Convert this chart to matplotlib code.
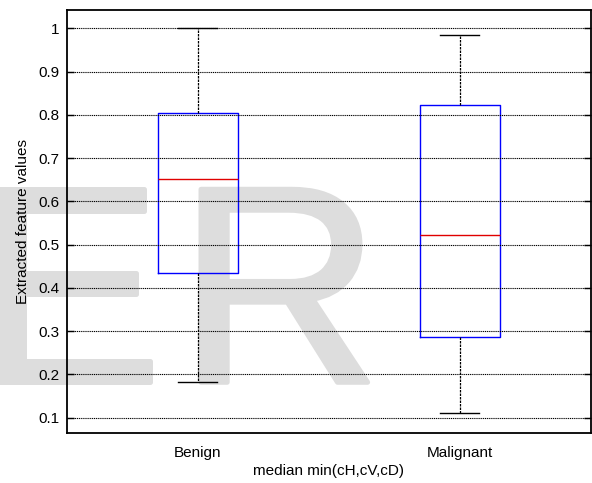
import matplotlib
matplotlib.use("Agg")
import matplotlib.pyplot as plt
import matplotlib.patheffects as pe

# box statistics for each class
groups = ["Benign", "Malignant"]
q1 = [0.435, 0.287]
med = [0.651, 0.522]
q3 = [0.804, 0.823]
whis_lo = [0.182, 0.110]
whis_hi = [1.000, 0.985]
yticks = [0.1, 0.2, 0.3, 0.4, 0.5, 0.6, 0.7, 0.8, 0.9, 1.0]
ytick_labels = ["0.1", "0.2", "0.3", "0.4", "0.5", "0.6", "0.7", "0.8", "0.9", "1"]

plt.rcParams['font.family'] = ['Liberation Sans', 'DejaVu Sans']

fig = plt.figure(figsize=(5.92, 4.83), dpi=100)
ax = fig.add_axes([0.1127, 0.1035, 0.8851, 0.8758])
ax.patch.set_visible(False)

# big grey lettering sitting behind the axes
for ch, xpos in [("E", -0.0423), ("R", 0.3007)]:
    t = fig.text(xpos, 0.2085, ch, fontsize=202, color='#dddddd',
                 ha='left', va='baseline', zorder=-1)
    t.set_path_effects([pe.withStroke(linewidth=3.6, foreground='#dddddd')])

stats = []
for i in range(len(groups)):
    stats.append({'label': groups[i], 'q1': q1[i], 'med': med[i], 'q3': q3[i],
                  'whislo': whis_lo[i], 'whishi': whis_hi[i], 'fliers': []})

ax.bxp(stats, positions=[1, 2], widths=0.305, capwidths=0.147, showfliers=False,
       boxprops=dict(color='#0000ff', linewidth=1.0),
       medianprops=dict(color='#e00000', linewidth=1.0),
       whiskerprops=dict(color='black', linewidth=0.9, linestyle=(0, (2, 0.8))),
       capprops=dict(color='black', linewidth=1.0))

ax.set_xlim(0.5, 2.5)
ax.set_ylim(0.0646, 1.0423)
ax.set_yticks(yticks)
ax.set_yticklabels(ytick_labels)
ax.yaxis.grid(True, color='black', linestyle=(0, (1, 0.7)), linewidth=0.8)
ax.set_axisbelow(False)

ax.tick_params(axis='y', direction='in', length=5, width=1, labelsize=11,
               pad=5, right=True)
ax.tick_params(axis='x', length=0, labelsize=11, pad=9)
for s in ax.spines.values():
    s.set_linewidth(1.3)

ax.set_xlabel("median min(cH,cV,cD)", fontsize=11, labelpad=3)
ax.set_ylabel("Extracted feature values", fontsize=11, labelpad=6)

fig.savefig("out.png", dpi=100)
